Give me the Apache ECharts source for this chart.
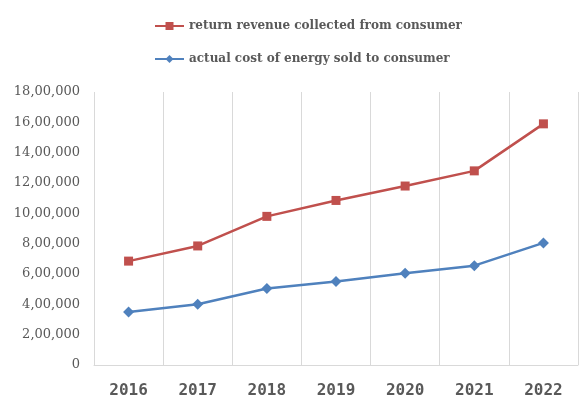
<!DOCTYPE html>
<html>
<head>
<meta charset="utf-8">
<script src="https://cdn.jsdelivr.net/npm/echarts@6/dist/echarts.min.js"></script>
<style>
  html, body { margin: 0; padding: 0; background: #fff; }
  #main { width: 580px; height: 399px; }
</style>
</head>
<body>
<div id="main"></div>
<script>
var years = ['2016', '2017', '2018', '2019', '2020', '2021', '2022'];
var revenue = [685000, 785000, 980000, 1085000, 1180000, 1280000, 1590000];
var cost = [350000, 400000, 505000, 550000, 605000, 655000, 805000];
var revenueName = 'return revenue collected from consumer';
var costName = 'actual cost of energy sold to consumer';

// indian style grouping: 18,00,000
function indianFormat(v) {
  var s = String(Math.round(v));
  if (s.length <= 3) return s;
  var last3 = s.slice(-3);
  var rest = s.slice(0, -3);
  rest = rest.replace(/\B(?=(\d{2})+(?!\d))/g, ',');
  return rest + ',' + last3;
}

var chart = echarts.init(document.getElementById('main'));

var option = {
  animation: false,
  legend: {
    orient: 'vertical',
    left: 149,
    top: 15,
    itemGap: 21,
    itemWidth: 29,
    itemHeight: 10,
    textStyle: {
      fontFamily: 'DejaVu Serif',
      fontSize: 12,
      fontWeight: 'bold',
      color: '#595959'
    },
    data: [revenueName, costName]
  },
  grid: {
    left: 94,
    right: 2,
    top: 92,
    bottom: 33,
    containLabel: false
  },
  xAxis: {
    type: 'category',
    data: years,
    boundaryGap: true,
    axisTick: { show: false },
    axisLine: { lineStyle: { color: '#d9d9d9' } },
    splitLine: { show: true, lineStyle: { color: '#d9d9d9', width: 1 } },
    axisLabel: {
      margin: 18,
      fontFamily: 'DejaVu Sans Mono',
      fontWeight: 'bold',
      fontSize: 16,
      color: '#595959'
    }
  },
  yAxis: {
    type: 'value',
    min: 0,
    max: 1800000,
    interval: 200000,
    axisLine: { show: false },
    axisTick: { show: false },
    splitLine: { show: false },
    axisLabel: {
      margin: 14,
      fontFamily: 'DejaVu Serif',
      fontSize: 13,
      color: '#595959',
      formatter: indianFormat
    }
  },
  series: [
    {
      name: revenueName,
      type: 'line',
      data: revenue,
      symbol: 'rect',
      symbolSize: 9,
      itemStyle: { color: '#c0504d' },
      lineStyle: { color: '#c0504d', width: 2.5 }
    },
    {
      name: costName,
      type: 'line',
      data: cost,
      symbol: 'diamond',
      symbolSize: 11,
      itemStyle: { color: '#4f81bd' },
      lineStyle: { color: '#4f81bd', width: 2.5 }
    }
  ]
};

chart.setOption(option);
</script>
</body>
</html>
